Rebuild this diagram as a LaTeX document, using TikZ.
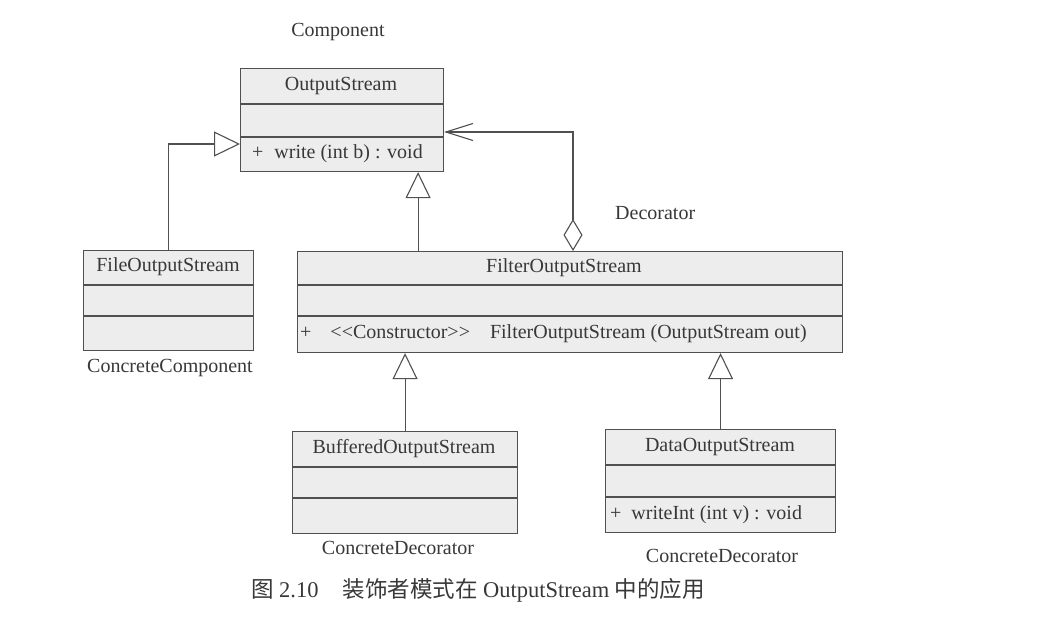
\documentclass[tikz,border=0pt]{standalone}
\usepackage{fontspec}
\setmainfont{Liberation Serif}
\newfontfamily\cjk{Noto Sans CJK SC}
\usetikzlibrary{arrows.meta}
\definecolor{linec}{HTML}{505050}
\definecolor{textc}{HTML}{383838}
\definecolor{boxc}{HTML}{EDEDED}
\begin{document}
\begin{tikzpicture}[x=1pt,y=-1pt,
  cls/.style={draw=linec, fill=boxc, line width=1.1pt, inner sep=0pt, anchor=north west},
  sepline/.style={draw=linec, line width=1.1pt},
  txt/.style={text=textc, font=\fontsize{20}{24}\selectfont, inner sep=0pt},
  conn/.style={draw=linec, line width=1.1pt},
  inh/.style={conn, -{Triangle[length=26pt,width=25pt,fill=white]}}
]
\fill[white] (0,0) rectangle (1054,635);
\useasboundingbox (0,0) rectangle (1054,635);

% classes
\node[cls, minimum width=203pt, minimum height=103pt] (os) at (240,68) {};
\draw[sepline] ([yshift=-36pt]os.north west) -- ([yshift=-36pt]os.north east);
\draw[sepline] ([yshift=-69pt]os.north west) -- ([yshift=-69pt]os.north east);
\node[txt] (ost) at (341,86) {OutputStream};
\node[txt, anchor=west] (osm) at (252,154) {+\hspace*{11pt}write (int b) : void};

\node[cls, minimum width=170pt, minimum height=100pt] (file) at (83,250) {};
\draw[sepline] ([yshift=-35pt]file.north west) -- ([yshift=-35pt]file.north east);
\draw[sepline] ([yshift=-66pt]file.north west) -- ([yshift=-66pt]file.north east);
\node[txt] (filet) at (168,267) {FileOutputStream};

\node[cls, minimum width=545pt, minimum height=101pt] (filter) at (297,251) {};
\draw[sepline] ([yshift=-34pt]filter.north west) -- ([yshift=-34pt]filter.north east);
\draw[sepline] ([yshift=-65pt]filter.north west) -- ([yshift=-65pt]filter.north east);
\node[txt] (filtert) at (564,268) {FilterOutputStream};
\node[txt, anchor=west] (filterm) at (300,334) {+\hspace*{19pt}<\kern0pt<Constructor>\kern0pt>\hspace*{20pt}FilterOutputStream (OutputStream out)};

\node[cls, minimum width=225pt, minimum height=102pt] (buf) at (292,431) {};
\draw[sepline] ([yshift=-36pt]buf.north west) -- ([yshift=-36pt]buf.north east);
\draw[sepline] ([yshift=-67pt]buf.north west) -- ([yshift=-67pt]buf.north east);
\node[txt] (buft) at (404,449) {BufferedOutputStream};

\node[cls, minimum width=230pt, minimum height=103pt] (data) at (605,429) {};
\draw[sepline] ([yshift=-36pt]data.north west) -- ([yshift=-36pt]data.north east);
\draw[sepline] ([yshift=-68pt]data.north west) -- ([yshift=-68pt]data.north east);
\node[txt] (datat) at (720,447) {DataOutputStream};
\node[txt, anchor=west] (datam) at (610,515) {+\hspace*{10pt}writeInt (int v) : void};

% connectors
\coordinate (osl) at ([yshift=-76pt]os.north west);
\draw[inh] (file.north) |- (osl);
\coordinate (osb) at ([xshift=-26pt]os.south east);
\draw[inh] (filter.north -| osb) -- (osb);
\draw[inh] (buf.north) -- (buf.north |- filter.south);
\draw[inh] (data.north) -- (data.north |- filter.south);
\coordinate (agg) at ([xshift=276pt]filter.north west);
\coordinate (ose) at ([yshift=-64pt]os.north east);
\draw[conn, {Diamond[length=32pt,width=19pt,fill=white]}-{Straight Barb[length=27pt,width=17pt]}] (agg) |- (ose);

% labels
\node[txt] (lcomp) at (338,32) {Component};
\node[txt, anchor=west] (ldec) at (615,213) {Decorator};
\node[txt] (lcc) at (170,368) {ConcreteComponent};
\node[txt] (lcd1) at (398,548) {ConcreteDecorator};
\node[txt] (lcd2) at (722,556) {ConcreteDecorator};
\node[txt, font=\fontsize{22.5}{26}\selectfont] (cap) at (478,590) {{\cjk 图} 2.10\hspace*{24pt}{\cjk 装饰者模式在} OutputStream {\cjk 中的应用}};
\end{tikzpicture}
\end{document}
